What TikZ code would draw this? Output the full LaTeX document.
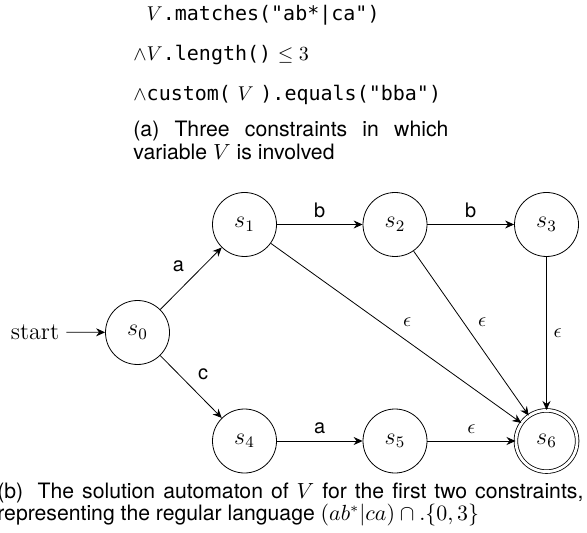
\documentclass[tikz,border=0pt]{standalone}
\usepackage{fontspec}
\setsansfont{TeX Gyre Heros}
\setmonofont{DejaVu Sans Mono}
\usetikzlibrary{arrows.meta}
\hyphenpenalty=10000
\tolerance=9999
\tikzset{>={Stealth[length=4.5pt,width=4pt,inset=1.5pt]},
  st/.style={circle, draw, minimum size=32pt, inner sep=0pt, font=\large},
  fin/.style={st, double, double distance=1.4pt, minimum size=30.6pt},
  lbl/.style={auto, font=\sffamily},
  txt/.style={inner sep=0pt, anchor=base west},
  captxt/.style={txt, align=justify, font=\sffamily\fontsize{10.6}{11.2}\selectfont}}

\begin{document}
\begin{tikzpicture}[x=0.5pt,y=-0.5pt]
 \useasboundingbox (0,0) rectangle (587,533);
 \node[txt] (l1) at (133, 21) {\phantom{$\wedge$}$V$\texttt{.matches("ab*|ca")}};
 \node[txt] (l2) at (133, 61) {$\wedge V$\texttt{.length()} $\leq 3$};
 \node[txt] (l3) at (133,101) {$\wedge$\texttt{custom(} $V$ \texttt{).equals("bba")}};
 \node[captxt, text width=157.5pt] (capa) at (133,137)
   {(a) Three constraints in which variable $V$ is involved};
 \node[st] (s0) at (137.5,332.5) {$s_0$};
 \foreach \n/\x/\y in {1/244.5/224.5, 2/395/224.5, 3/546.5/224.5, 4/244.5/441, 5/395/441}
   \node[st] (s\n) at (\x,\y) {$s_\n$};
 \node[fin] (s6) at (546.5,441) {$s_6$};
 \node[font=\large] (start) at (35,332) {start};
 \draw[->] (start) -- (s0);
 \draw[->] (s0) -- node[lbl] {a} (s1);
 \draw[->] (s0) -- node[lbl] {c} (s4);
 \draw[->] (s1) -- node[lbl] {b} (s2);
 \draw[->] (s2) -- node[lbl] {b} (s3);
 \draw[->] (s4) -- node[lbl] {a} (s5);
 \draw[->] (s5) -- node[lbl] {$\epsilon$} (s6);
 \draw[->] (s1) -- node[lbl] {$\epsilon$} (s6);
 \draw[->] (s2) -- node[lbl] {$\epsilon$} (s6);
 \draw[->] (s3) -- node[lbl] {$\epsilon$} (s6);
 \node[captxt, text width=293pt] (capb) at (-3,498)
   {(b)\hspace{0.3em} The solution automaton of $V$ for the first two constraints, representing the regular language $(ab^*|ca)\cap.\{0,3\}$};
\end{tikzpicture}
\end{document}
